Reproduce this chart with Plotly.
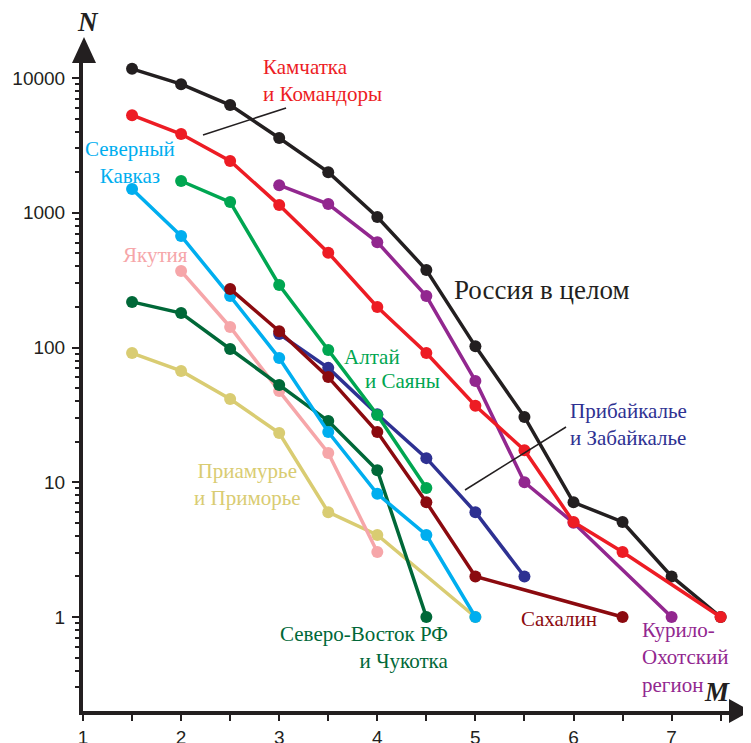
import plotly.graph_objects as go

# ---- data ----
M_russia = [1.5, 2, 2.5, 3, 3.5, 4, 4.5, 5, 5.5, 6, 6.5, 7, 7.5]
N_russia = [11700, 9000, 6300, 3590, 2000, 930, 376, 102, 30.5, 7.1, 5.07, 2.0, 1]

M_kamch = [1.5, 2, 2.5, 3, 3.5, 4, 4.5, 5, 5.5, 6, 6.5, 7.5]
N_kamch = [5300, 3840, 2420, 1140, 505, 200, 91, 37, 17.3, 5.07, 3.04, 1]

M_kuril = [3, 3.5, 4, 4.5, 5, 5.5, 6, 7]
N_kuril = [1600, 1160, 605, 241, 56.5, 10, 5, 1]

M_altai = [2, 2.5, 3, 3.5, 4, 4.5]
N_altai = [1720, 1200, 291, 96, 31.6, 9.06]

M_kavkaz = [1.5, 2, 2.5, 3, 3.5, 4, 4.5, 5]
N_kavkaz = [1500, 672, 241, 83.5, 23.6, 8.2, 4.06, 1]

M_yakut = [2, 2.5, 3, 3.5, 4]
N_yakut = [369, 142, 47.5, 16.5, 3.04]

M_sakh = [2.5, 3, 3.5, 4, 4.5, 5, 6.5]
N_sakh = [272, 132, 60.3, 23.6, 7.1, 2.0, 1]

M_baikal = [3, 3.5, 4, 4.5, 5, 5.5]
N_baikal = [126, 70.6, 32, 15.1, 6.0, 2.0]

M_nevost = [1.5, 2, 2.5, 3, 3.5, 4, 4.5]
N_nevost = [218, 180, 97.5, 52.7, 28.5, 12.3, 1]

M_amur = [1.5, 2, 2.5, 3, 3.5, 4, 5]
N_amur = [91, 67, 41.5, 23.2, 6.0, 4.06, 1]

# leader lines (label pointers)
lead1_M = [2.223, 3.07]
lead1_N = [3776, 5990]
lead2_M = [4.894, 5.924]
lead2_N = [8.76, 25.7]

y_tickvals = [1, 10, 100, 1000, 10000]
y_ticktext = ["1", "10", "100", "1000", "10000"]
x_tickvals = [1, 2, 3, 4, 5, 6, 7]

C_BLACK = "#231f20"
C_RED = "#ed1c24"
C_PURPLE = "#92278f"
C_GREEN = "#00a651"
C_CYAN = "#00aeef"
C_PINK = "#f6a6a9"
C_DRED = "#8b0a0f"
C_DBLUE = "#2e3192"
C_DGREEN = "#006838"
C_YELLOW = "#d9cc72"

series = [
    (M_amur, N_amur, C_YELLOW),
    (M_yakut, N_yakut, C_PINK),
    (M_nevost, N_nevost, C_DGREEN),
    (M_baikal, N_baikal, C_DBLUE),
    (M_kavkaz, N_kavkaz, C_CYAN),
    (M_altai, N_altai, C_GREEN),
    (M_sakh, N_sakh, C_DRED),
    (M_kuril, N_kuril, C_PURPLE),
    (M_russia, N_russia, C_BLACK),
    (M_kamch, N_kamch, C_RED),
]

fig = go.Figure()
for xs, ys, c in series:
    fig.add_trace(go.Scatter(x=xs, y=ys, mode="lines+markers",
                             line=dict(color=c, width=3.5),
                             marker=dict(color=c, size=12),
                             showlegend=False, hoverinfo="skip", cliponaxis=False))

for xs, ys in [(lead1_M, lead1_N), (lead2_M, lead2_N)]:
    fig.add_trace(go.Scatter(x=xs, y=ys, mode="lines",
                             line=dict(color=C_BLACK, width=1.5),
                             showlegend=False, hoverinfo="skip"))

SERIF = "Liberation Serif"
SANS = "Liberation Sans"
FS = 21

def lab(text, x, y, color, xanchor="left", align="left", size=FS):
    fig.add_annotation(text=text, x=x, y=y, xref="x", yref="y",
                       showarrow=False, xanchor=xanchor, yanchor="middle",
                       align=align, font=dict(family=SERIF, size=size, color=color))

lab("Камчатка<br>и Командоры", 2.814, 3.985, C_RED)
lab("Северный<br>Кавказ", 1.479, 3.375, C_CYAN, xanchor="center", align="center")
lab("Якутия", 1.744, 2.686, C_PINK, xanchor="center", align="center")
lab("Алтай", 3.640, 1.930, C_GREEN)
lab("и Саяны", 3.854, 1.751, C_GREEN)
lab("Россия в целом", 4.761, 2.427, C_BLACK, size=27)
lab("Прибайкалье<br>и Забайкалье", 5.944, 1.425, C_DBLUE)
lab("Приамурье<br>и Приморье", 2.672, 0.98, C_YELLOW, xanchor="center", align="center")
lab("Северо-Восток РФ<br>и Чукотка", 4.741, -0.230, C_DGREEN, xanchor="right", align="right")
lab("Сахалин", 5.444, -0.015, C_DRED)
lab("Курило-<br>Охотский<br>регион", 6.678, -0.297, C_PURPLE)

# page offset (browser body margin) compensation
OFF = 8
L, R, T, B = 83 - OFF, 18, 58 - OFF, 32
W, H = 751 - OFF, 743 - OFF
pw, ph = W - L - R, H - T - B

def px2paper(px, py):
    # px, py given in window pixels
    px -= OFF
    py -= OFF
    return (px - L) / pw, (H - B - py) / ph

nx, ny = px2paper(88, 22)
fig.add_annotation(text="<b><i>N</i></b>", x=nx, y=ny, xref="paper", yref="paper",
                   showarrow=False, xanchor="center", yanchor="middle",
                   font=dict(family=SERIF, size=27, color=C_BLACK))
mx, my = px2paper(717, 692)
fig.add_annotation(text="<b><i>M</i></b>", x=mx, y=my, xref="paper", yref="paper",
                   showarrow=False, xanchor="center", yanchor="middle",
                   font=dict(family=SERIF, size=27, color=C_BLACK))

# arrowheads
def tri(p1, p2, p3):
    a = px2paper(*p1); b = px2paper(*p2); c = px2paper(*p3)
    return f"M {a[0]},{a[1]} L {b[0]},{b[1]} L {c[0]},{c[1]} Z"

fig.add_shape(type="path", xref="paper", yref="paper",
              path=tri((84, 37), (72, 63), (96, 63)),
              fillcolor=C_BLACK, line=dict(color=C_BLACK, width=0))
fig.add_shape(type="path", xref="paper", yref="paper",
              path=tri((751, 711), (729, 699), (729, 723)),
              fillcolor=C_BLACK, line=dict(color=C_BLACK, width=0))

x_max = 1 + pw / 98.1
y_top = (617 - 58) / 134.75
y_bot = (617 - 711) / 134.75

fig.update_layout(
    width=W, height=H,
    margin=dict(l=L, r=R, t=T, b=B, autoexpand=False),
    plot_bgcolor="white", paper_bgcolor="white",
    showlegend=False,
)
fig.update_xaxes(range=[1, x_max], showgrid=False, zeroline=False, automargin=False,
                 showline=True, linecolor=C_BLACK, linewidth=4,
                 tickvals=x_tickvals, ticks="outside", ticklen=6, tickwidth=1.5,
                 tickcolor=C_BLACK, ticklabelstandoff=0,
                 minor=dict(ticks="outside", ticklen=6, tickwidth=1.5, tickcolor=C_BLACK,
                            dtick=0.5, tick0=1, showgrid=False),
                 tickfont=dict(family=SANS, size=19, color=C_BLACK))
fig.update_yaxes(type="log", range=[y_bot, y_top], showgrid=False, zeroline=False,
                 automargin=False,
                 showline=True, linecolor=C_BLACK, linewidth=4,
                 tickvals=y_tickvals, ticktext=y_ticktext,
                 ticks="outside", ticklen=7, tickwidth=1.5, tickcolor=C_BLACK,
                 ticklabelstandoff=3,
                 minor=dict(ticks="outside", ticklen=4, tickwidth=1.5, tickcolor=C_BLACK,
                            dtick="D1", showgrid=False),
                 tickfont=dict(family=SANS, size=19, color=C_BLACK))

fig.write_html("out.html")
